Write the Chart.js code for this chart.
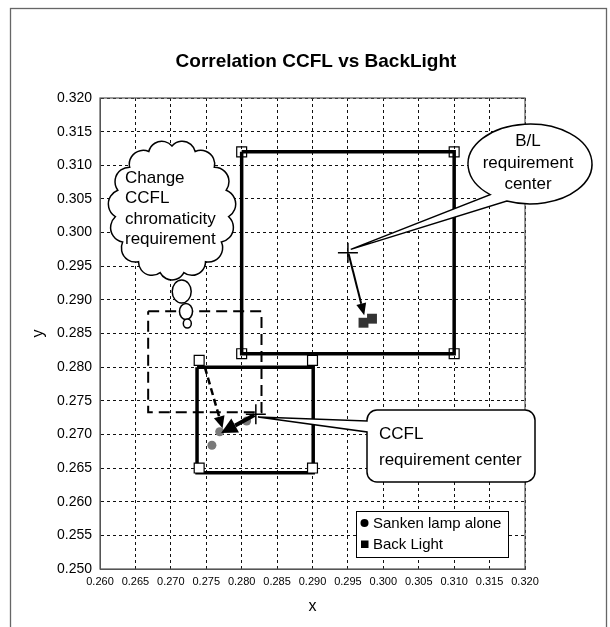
<!DOCTYPE html>
<html>
<head>
<meta charset="utf-8">
<title>Correlation CCFL vs BackLight</title>
<script src="https://cdn.jsdelivr.net/npm/chart.js@4.4.1/dist/chart.umd.min.js"></script>
<style>
  html, body { margin: 0; padding: 0; background: #fff; }
  #wrap { width: 610px; height: 627px; }
</style>
</head>
<body>
<div id="wrap"><canvas id="chart" width="610" height="627"></canvas></div>
<script>
// ---- chromaticity data (x, y) ----
const xTickValues = [0.260, 0.265, 0.270, 0.275, 0.280, 0.285, 0.290, 0.295, 0.300, 0.305, 0.310, 0.315, 0.320];
const yTickValues = [0.250, 0.255, 0.260, 0.265, 0.270, 0.275, 0.280, 0.285, 0.290, 0.295, 0.300, 0.305, 0.310, 0.315, 0.320];

// Back-light requirement window
const blBoxX = [0.280, 0.310, 0.310, 0.280, 0.280];
const blBoxY = [0.312, 0.312, 0.282, 0.282, 0.312];
const blCornerX = [0.280, 0.310, 0.280, 0.310];
const blCornerY = [0.312, 0.312, 0.282, 0.282];
const blCenterX = [0.295];
const blCenterY = [0.297];

// CCFL requirement window
const ccflBoxX = [0.2737, 0.2901, 0.2901, 0.2737, 0.2737];
const ccflBoxY = [0.2800, 0.2800, 0.2643, 0.2643, 0.2800];
const ccflCornerX = [0.274, 0.290, 0.274, 0.290];
const ccflCornerY = [0.281, 0.281, 0.265, 0.265];
const ccflCenterX = [0.282];
const ccflCenterY = [0.273];

// proposed (changed) CCFL window
const newReqX = [0.2668, 0.2828, 0.2828, 0.2668, 0.2668];
const newReqY = [0.2883, 0.2883, 0.2733, 0.2733, 0.2883];

// measurements
const sankenX = [0.2758, 0.2769, 0.2807];
const sankenY = [0.2684, 0.2704, 0.2720];
const backLightX = [0.2972, 0.2984];
const backLightY = [0.2866, 0.2872];

// arrows: [start, end] in chart units
const blArrow = [[0.2951, 0.2968], [0.2973, 0.2877]];
const ccflArrow = [[0.2818, 0.2729], [0.2771, 0.2702]];
const shiftArrow = [[0.2748, 0.2800], [0.2773, 0.2709]];

// callout anchor points in chart units
const blCalloutTip = [0.2954, 0.2975];
const ccflCalloutTip = [0.2823, 0.2726];

const zip = (xs, ys) => xs.map((x, i) => ({ x: x, y: ys[i] }));

Chart.defaults.font.family = "'Liberation Sans', Arial, Helvetica, sans-serif";
Chart.defaults.color = '#000';

function drawArrow(ctx, x0, y0, x1, y1, width, headLen, headHalf, dash) {
  const a = Math.atan2(y1 - y0, x1 - x0);
  const bx = x1 - headLen * Math.cos(a), by = y1 - headLen * Math.sin(a);
  ctx.save();
  ctx.strokeStyle = '#000';
  ctx.fillStyle = '#000';
  ctx.lineWidth = width;
  ctx.setLineDash(dash || []);
  ctx.beginPath();
  ctx.moveTo(x0, y0);
  ctx.lineTo(bx, by);
  ctx.stroke();
  ctx.setLineDash([]);
  ctx.beginPath();
  ctx.moveTo(x1, y1);
  ctx.lineTo(bx + headHalf * Math.sin(a), by - headHalf * Math.cos(a));
  ctx.lineTo(bx - headHalf * Math.sin(a), by + headHalf * Math.cos(a));
  ctx.closePath();
  ctx.fill();
  ctx.restore();
}

// scalloped outline: arcs between points spaced around an ellipse
function cloudPath(ctx, cx, cy, rx, ry, n, k) {
  const pts = [];
  for (let i = 0; i < n; i++) {
    const t = -Math.PI / 2 + i * 2 * Math.PI / n;
    pts.push([cx + rx * Math.cos(t), cy + ry * Math.sin(t)]);
  }
  ctx.beginPath();
  for (let i = 0; i < n; i++) {
    const p = pts[i], q = pts[(i + 1) % n];
    const mx = (p[0] + q[0]) / 2, my = (p[1] + q[1]) / 2;
    const half = Math.hypot(q[0] - p[0], q[1] - p[1]) / 2;
    const dx = (q[0] - p[0]) / (2 * half), dy = (q[1] - p[1]) / (2 * half);
    const R = half * k;
    const h = Math.sqrt(R * R - half * half);
    const ox = dy, oy = -dx; // outward normal
    const ccx = mx - ox * h, ccy = my - oy * h;
    const a0 = Math.atan2(p[1] - ccy, p[0] - ccx);
    const a1 = Math.atan2(q[1] - ccy, q[0] - ccx);
    if (i === 0) ctx.moveTo(p[0], p[1]);
    ctx.arc(ccx, ccy, R, a0, a1, false);
  }
  ctx.closePath();
}

const annotations = {
  id: 'annotations',
  beforeDraw(chart) {
    const ctx = chart.ctx;
    ctx.save();
    ctx.fillStyle = '#fff';
    ctx.fillRect(0, 0, chart.width, chart.height);
    ctx.restore();
  },
  beforeDatasetsDraw(chart) {
    const { ctx, chartArea: a } = chart;
    ctx.save();
    ctx.strokeStyle = '#555';
    ctx.lineWidth = 1.2;
    ctx.strokeRect(a.left, a.top, a.right - a.left, a.bottom - a.top);
    ctx.restore();
  },
  afterDatasetsDraw(chart) {
    const ctx = chart.ctx;
    const sx = chart.scales.x, sy = chart.scales.y;
    const px = v => sx.getPixelForValue(v);
    const py = v => sy.getPixelForValue(v);
    const font = "17px 'Liberation Sans', Arial, sans-serif";

    // arrows
    drawArrow(ctx, px(blArrow[0][0]), py(blArrow[0][1]), px(blArrow[1][0]), py(blArrow[1][1]), 2, 12, 5);
    drawArrow(ctx, px(shiftArrow[0][0]), py(shiftArrow[0][1]), px(shiftArrow[1][0]), py(shiftArrow[1][1]), 2.5, 12, 5.5, [7, 4]);
    drawArrow(ctx, px(ccflArrow[0][0]), py(ccflArrow[0][1]), px(ccflArrow[1][0]), py(ccflArrow[1][1]), 4, 16, 8);

    ctx.save();
    ctx.lineWidth = 1.5;
    ctx.strokeStyle = '#000';
    ctx.fillStyle = '#fff';

    // thought cloud
    cloudPath(ctx, 172, 210, 57, 64, 15, 1.12);
    ctx.fill();
    ctx.stroke();
    [[181.7, 291.5, 9.5, 11.5], [186, 311.5, 6.5, 8], [187.3, 323.5, 4, 4.5]].forEach(b => {
      ctx.beginPath();
      ctx.ellipse(b[0], b[1], b[2], b[3], 0, 0, Math.PI * 2);
      ctx.fill();
      ctx.stroke();
    });
    ctx.fillStyle = '#000';
    ctx.font = font;
    ctx.textAlign = 'left';
    ctx.textBaseline = 'middle';
    ['Change', 'CCFL', 'chromaticity', 'requirement'].forEach((t, i) => ctx.fillText(t, 125, 178 + i * 20.6));

    // B/L requirement center balloon
    const ecx = 530, ecy = 164, erx = 62, ery = 40;
    const tipX = px(blCalloutTip[0]), tipY = py(blCalloutTip[1]);
    const aUp = 130 * Math.PI / 180, aLow = 112 * Math.PI / 180;
    ctx.fillStyle = '#fff';
    ctx.beginPath();
    ctx.moveTo(tipX, tipY);
    ctx.lineTo(ecx + erx * Math.cos(aUp), ecy + ery * Math.sin(aUp));
    ctx.ellipse(ecx, ecy, erx, ery, 0, aUp, aLow, false);
    ctx.closePath();
    ctx.fill();
    ctx.stroke();
    ctx.fillStyle = '#000';
    ctx.textAlign = 'center';
    ['B/L', 'requirement', 'center'].forEach((t, i) => ctx.fillText(t, 528, 141.5 + i * 21.5));

    // CCFL requirement center callout
    const L = 367, T = 410, R = 535, B = 482, r = 10;
    const cTipX = px(ccflCalloutTip[0]), cTipY = py(ccflCalloutTip[1]);
    ctx.fillStyle = '#fff';
    ctx.beginPath();
    ctx.moveTo(L + r, T);
    ctx.lineTo(R - r, T); ctx.arcTo(R, T, R, T + r, r);
    ctx.lineTo(R, B - r); ctx.arcTo(R, B, R - r, B, r);
    ctx.lineTo(L + r, B); ctx.arcTo(L, B, L, B - r, r);
    ctx.lineTo(L, 432); ctx.lineTo(cTipX, cTipY); ctx.lineTo(L, 421);
    ctx.lineTo(L, T + r); ctx.arcTo(L, T, L + r, T, r);
    ctx.closePath();
    ctx.fill();
    ctx.stroke();
    ctx.fillStyle = '#000';
    ctx.textAlign = 'left';
    ctx.fillText('CCFL', 379, 434);
    ctx.fillText('requirement center', 379, 460);

    // legend
    ctx.lineWidth = 1;
    ctx.fillStyle = '#fff';
    ctx.strokeStyle = '#000';
    ctx.fillRect(356, 511, 153, 47);
    ctx.strokeRect(356.5, 511.5, 152, 46);
    ctx.fillStyle = '#000';
    ctx.beginPath();
    ctx.arc(364.5, 523, 4, 0, Math.PI * 2);
    ctx.fill();
    ctx.fillRect(361, 540.5, 7.5, 7.5);
    ctx.font = "15px 'Liberation Sans', Arial, sans-serif";
    ctx.fillText('Sanken lamp alone', 373, 523.5);
    ctx.fillText('Back Light', 373, 544.5);
    ctx.restore();
  },
  afterDraw(chart) {
    const ctx = chart.ctx;
    ctx.save();
    ctx.fillStyle = '#000';
    ctx.font = "bold 19px 'Liberation Sans', Arial, sans-serif";
    ctx.textAlign = 'center';
    ctx.textBaseline = 'middle';
    ctx.fillText('Correlation CCFL vs BackLight', 316, 62);
    ctx.strokeStyle = '#666';
    ctx.lineWidth = 1.3;
    ctx.strokeRect(10.5, 8.5, 596, 640);
    ctx.restore();
  }
};

new Chart(document.getElementById('chart'), {
  type: 'scatter',
  data: {
    datasets: [
      { label: 'Back Light', data: zip(backLightX, backLightY), pointStyle: 'rect', pointRadius: 7, backgroundColor: '#333', borderColor: '#333', borderWidth: 0 },
      { label: 'Sanken lamp alone', data: zip(sankenX, sankenY), pointStyle: 'circle', pointRadius: 4.5, backgroundColor: '#7a7a7a', borderColor: '#7a7a7a', borderWidth: 0 },
      { label: 'B/L center', data: zip(blCenterX, blCenterY), pointStyle: 'cross', pointRadius: 10, borderColor: '#000', borderWidth: 1.5 },
      { label: 'CCFL center', data: zip(ccflCenterX, ccflCenterY), pointStyle: 'cross', pointRadius: 10, borderColor: '#000', borderWidth: 1.5 },
      { label: 'B/L corners', data: zip(blCornerX, blCornerY), pointStyle: 'rect', pointRadius: 7, backgroundColor: 'rgba(0,0,0,0)', borderColor: '#000', borderWidth: 1.2 },
      { label: 'CCFL corners', data: zip(ccflCornerX, ccflCornerY), pointStyle: 'rect', pointRadius: 7, backgroundColor: '#fff', borderColor: '#000', borderWidth: 1.2 },
      { label: 'B/L requirement', data: zip(blBoxX, blBoxY), showLine: true, pointRadius: 0, borderColor: '#000', borderWidth: 3.5, fill: false },
      { label: 'CCFL requirement', data: zip(ccflBoxX, ccflBoxY), showLine: true, pointRadius: 0, borderColor: '#000', borderWidth: 3.5, fill: false },
      { label: 'New CCFL requirement', data: zip(newReqX, newReqY), showLine: true, pointRadius: 0, borderColor: '#000', borderWidth: 2, borderDash: [11, 6], fill: false }
    ]
  },
  options: {
    responsive: false,
    animation: false,
    events: [],
    layout: { padding: { top: 98, right: 85, bottom: 0, left: 0 } },
    plugins: { legend: { display: false }, tooltip: { enabled: false }, title: { display: false } },
    scales: {
      x: {
        type: 'linear', min: 0.26, max: 0.32,
        afterFit: s => { s.height = 58; },
        afterBuildTicks: s => { s.ticks = xTickValues.map(v => ({ value: v })); },
        ticks: { font: { size: 11 }, padding: 6, maxRotation: 0, autoSkip: false, color: '#000', callback: v => Number(v).toFixed(3) },
        grid: { color: '#111', lineWidth: 1, drawTicks: false },
        border: { display: true, color: '#555', width: 1, dash: [3, 3] },
        title: { display: true, text: 'x', font: { size: 16 }, color: '#000', padding: { top: 0, bottom: 11 } }
      },
      y: {
        type: 'linear', min: 0.25, max: 0.32,
        afterFit: s => { s.width = 100; },
        afterBuildTicks: s => { s.ticks = yTickValues.map(v => ({ value: v })); },
        ticks: { font: { size: 14 }, padding: 8, autoSkip: false, color: '#000', callback: v => Number(v).toFixed(3) },
        grid: { color: '#111', lineWidth: 1, drawTicks: false },
        border: { display: true, color: '#555', width: 1, dash: [3, 3] },
        title: { display: true, text: 'y', font: { size: 16 }, color: '#000', padding: { top: 29, bottom: 0 } }
      }
    }
  },
  plugins: [annotations]
});
</script>
</body>
</html>
